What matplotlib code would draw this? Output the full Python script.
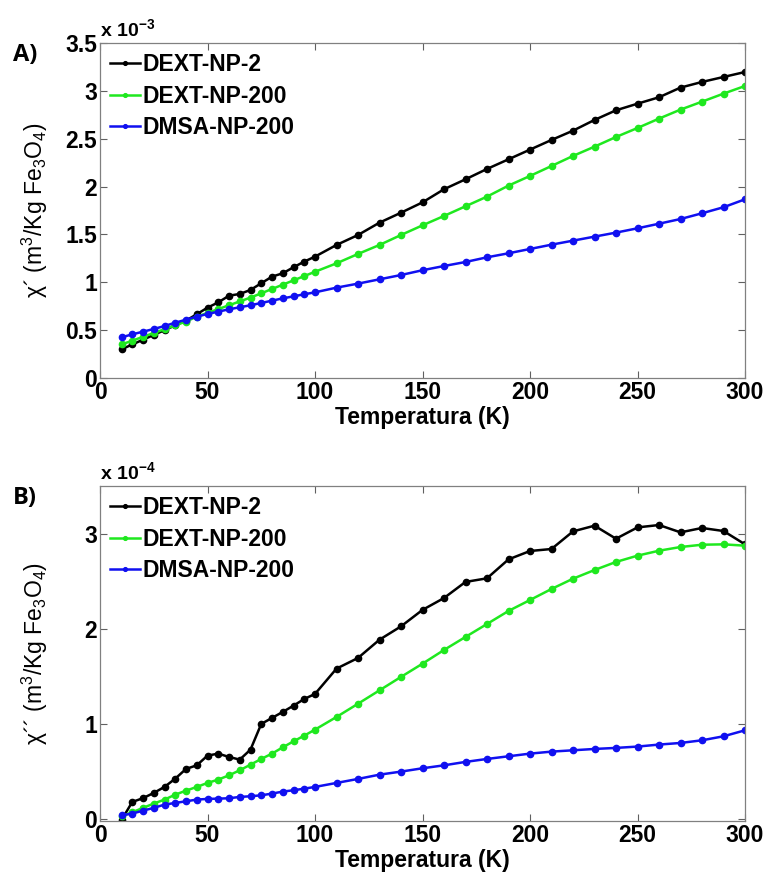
import matplotlib
matplotlib.use("Agg")
import matplotlib.pyplot as plt

plt.rcParams['font.family'] = ['Liberation Sans', 'DejaVu Sans']
plt.rcParams['mathtext.default'] = 'regular'

# Temperaturas (K)
temperatura = [10, 15, 20, 25, 30, 35, 40, 45, 50, 55, 60, 65, 70, 75, 80, 85, 90, 95, 100,
               110, 120, 130, 140, 150, 160, 170, 180, 190, 200,
               210, 220, 230, 240, 250, 260, 270, 280, 290, 300]

# ---------- chi' (x 1e-3) ----------
chi1_dext2 = [0.30, 0.35, 0.40, 0.45, 0.50, 0.55, 0.60, 0.666, 0.735, 0.79, 0.86, 0.878, 0.92,
              0.99, 1.059, 1.094, 1.157, 1.216, 1.268,
              1.390, 1.494, 1.623, 1.727, 1.835, 1.972, 2.076, 2.184, 2.285, 2.386,
              2.487, 2.584, 2.696, 2.797, 2.866, 2.933, 3.034, 3.093, 3.145, 3.197]
chi1_dext200 = [0.35, 0.39, 0.43, 0.47, 0.51, 0.55, 0.59, 0.64, 0.68, 0.72, 0.76, 0.80, 0.84,
                0.885, 0.93, 0.975, 1.02, 1.065, 1.11,
                1.198, 1.296, 1.390, 1.494, 1.595, 1.693, 1.794, 1.895, 2.010, 2.111,
                2.215, 2.320, 2.417, 2.518, 2.612, 2.710, 2.804, 2.887, 2.971, 3.051]
chi1_dmsa200 = [0.425, 0.456, 0.484, 0.512, 0.543, 0.578, 0.609, 0.641, 0.669, 0.693, 0.718,
                0.739, 0.760, 0.784, 0.808, 0.832, 0.853, 0.875, 0.895,
                0.944, 0.986, 1.031, 1.076, 1.126, 1.170, 1.212, 1.261, 1.303, 1.348,
                1.393, 1.435, 1.477, 1.519, 1.564, 1.612, 1.661, 1.721, 1.784, 1.867]

# ---------- chi'' (x 1e-4) ----------
chi2_dext2 = [-0.01, 0.18, 0.22, 0.275, 0.338, 0.425, 0.527, 0.565, 0.667, 0.688, 0.653, 0.625,
              0.730, 1.00, 1.063, 1.126, 1.192, 1.262, 1.315,
              1.581, 1.693, 1.885, 2.025, 2.198, 2.323, 2.492, 2.530, 2.729, 2.817,
              2.838, 3.023, 3.083, 2.946, 3.065, 3.090, 3.013, 3.059, 3.027, 2.887]
chi2_dext200 = [0.03, 0.072, 0.118, 0.163, 0.205, 0.257, 0.299, 0.338, 0.380, 0.415, 0.46,
                0.513, 0.572, 0.632, 0.688, 0.754, 0.817, 0.877, 0.940,
                1.073, 1.212, 1.353, 1.494, 1.633, 1.777, 1.914, 2.050, 2.187, 2.302,
                2.418, 2.526, 2.617, 2.702, 2.768, 2.820, 2.859, 2.883, 2.887, 2.873]
chi2_dmsa200 = [0.04, 0.058, 0.089, 0.118, 0.152, 0.17, 0.187, 0.205, 0.212, 0.215, 0.219,
                0.233, 0.24, 0.25, 0.268, 0.289, 0.303, 0.32, 0.338,
                0.38, 0.422, 0.467, 0.499, 0.534, 0.565, 0.601, 0.632, 0.66, 0.688,
                0.709, 0.723, 0.737, 0.748, 0.762, 0.783, 0.80, 0.828, 0.87, 0.933]

nomes = ['DEXT-NP-2', 'DEXT-NP-200', 'DMSA-NP-200']
cores = ['black', '#1fe81f', '#1010f0']

fig = plt.figure(figsize=(7.66, 8.75), dpi=100)
W, H = 766.0, 875.0
ax1 = fig.add_axes([100 / W, 1 - 378 / H, 645 / W, 335 / H])
ax2 = fig.add_axes([100 / W, 1 - 821 / H, 645 / W, 335 / H])


def desenha(ax, series, ylim, yticks, ylabels, ylabel, expo, letra):
    for y, nome, cor in zip(series, nomes, cores):
        ax.plot(temperatura, y, '-o', color=cor, lw=1.8, ms=4.5, label=nome)
    ax.set_xlim(0, 300)
    ax.set_ylim(*ylim)
    ax.set_xticks([0, 50, 100, 150, 200, 250, 300])
    ax.set_yticks(yticks)
    ax.set_yticklabels(ylabels)
    ax.tick_params(direction='in', top=True, right=True, length=5, width=0.8,
                   color='#606060', labelsize=16.5, pad=2)
    for lab in ax.get_xticklabels() + ax.get_yticklabels():
        lab.set_fontweight('bold')
    for s in ax.spines.values():
        s.set_color('#808080')
        s.set_linewidth(0.9)
    ax.set_xlabel("Temperatura (K)", fontsize=16.5, fontweight='bold', labelpad=0)
    ax.xaxis.set_label_coords(0.5, -0.084)
    ax.set_ylabel(ylabel, fontsize=16.5)
    ax.yaxis.set_label_coords(-0.078, 0.5)
    ax.text(0.0, 1.01, "x 10$^{" + expo + "}$", transform=ax.transAxes,
            fontsize=14, fontweight='bold', ha='left', va='bottom')
    ax.text(-0.135, 1.0, letra, transform=ax.transAxes, fontsize=17,
            fontweight='bold', family='Open Sans', ha='left', va='top')
    leg = ax.legend(loc='upper left', frameon=False, fontsize=16.5, handlelength=1.3,
                    handletextpad=0.12, borderaxespad=0.1, labelspacing=0.36,
                    markerscale=0.6, borderpad=0.35)
    for t in leg.get_texts():
        t.set_fontweight('bold')


desenha(ax1, [chi1_dext2, chi1_dext200, chi1_dmsa200], (0, 3.5),
        [0, 0.5, 1, 1.5, 2, 2.5, 3, 3.5],
        ['0', '0.5', '1', '1.5', '2', '2.5', '3', '3.5'],
        "χ´ (m$^3$/Kg Fe$_3$O$_4$)", "-3", "A)")
desenha(ax2, [chi2_dext2, chi2_dext200, chi2_dmsa200], (-0.02, 3.5),
        [0, 1, 2, 3], ['0', '1', '2', '3'],
        "χ´´ (m$^3$/Kg Fe$_3$O$_4$)", "-4", "B)")

fig.savefig("out.png", dpi=100)
